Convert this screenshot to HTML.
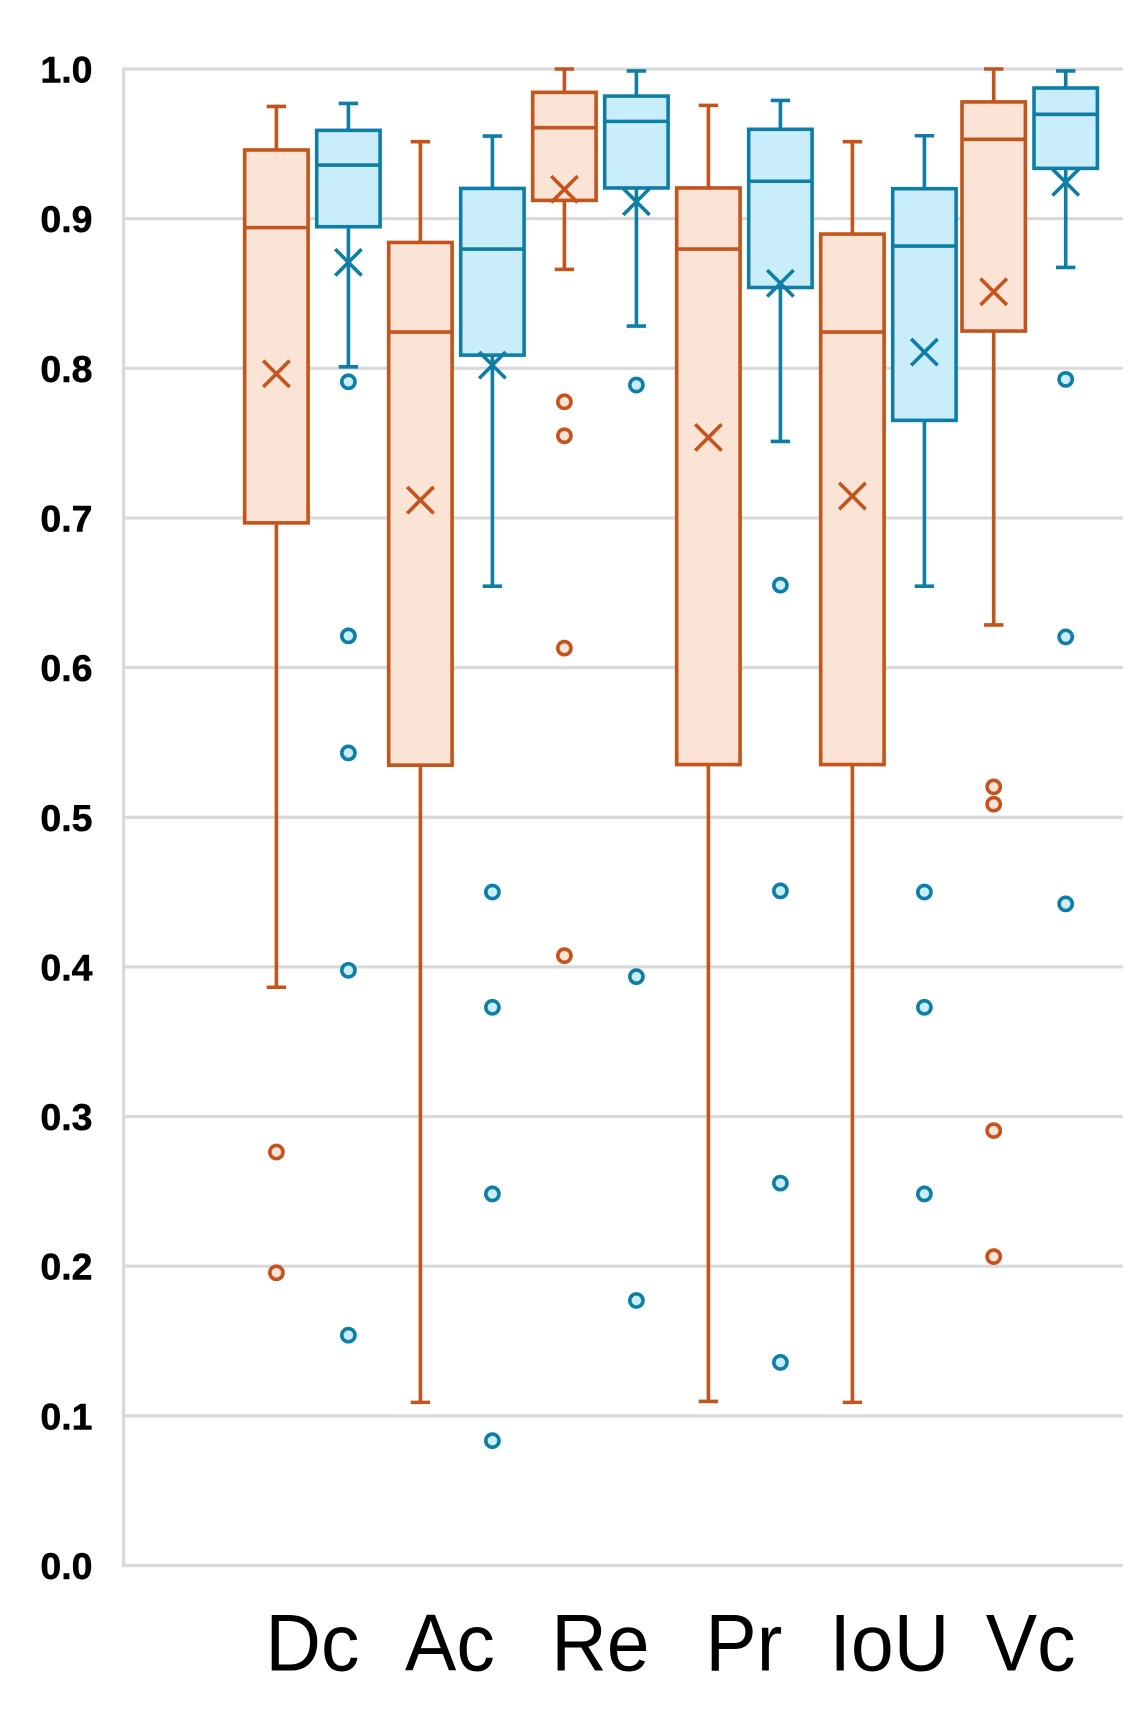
<!DOCTYPE html>
<html lang="en">
<head>
<meta charset="utf-8">
<title>Box plot of segmentation metrics</title>
<style>
  html, body { margin: 0; padding: 0; background: #fff; }
  #chart { display: block; width: 1142px; height: 1713px; }
  .y-tick { font: bold 37.5px "Liberation Sans", sans-serif; fill: #000; stroke: #000; stroke-width: 0.5; text-anchor: end; }
  .x-tick { font: 81px "Liberation Sans", sans-serif; fill: #000; text-anchor: middle; }
</style>
</head>
<body>
<svg id="chart" xmlns="http://www.w3.org/2000/svg" width="1142" height="1713" viewBox="0 0 1142 1713"></svg>
<script>
const categories = ['Dc', 'Ac', 'Re', 'Pr', 'IoU', 'Vc'];
const yTickValues = [0.0, 0.1, 0.2, 0.3, 0.4, 0.5, 0.6, 0.7, 0.8, 0.9, 1.0];

const orangeWhiskerHigh = [0.975, 0.9514, 1.0, 0.9757, 0.9514, 1.0];
const orangeQ3 = [0.9459, 0.8841, 0.9844, 0.9205, 0.8897, 0.978];
const orangeMedian = [0.894, 0.8242, 0.9608, 0.8797, 0.8242, 0.953];
const orangeQ1 = [0.6967, 0.5348, 0.9122, 0.5352, 0.5352, 0.8249];
const orangeWhiskerLow = [0.3864, 0.109, 0.8661, 0.1096, 0.109, 0.6285];
const orangeMean = [0.7963, 0.7119, 0.9196, 0.7538, 0.7146, 0.8511];
const orangeOutliers = [
  [0.2763, 0.1956],
  [],
  [0.7776, 0.7549, 0.613, 0.4075],
  [],
  [],
  [0.5203, 0.5087, 0.2906, 0.2064]
];

const blueWhiskerHigh = [0.977, 0.9552, 0.9987, 0.979, 0.9554, 0.9987];
const blueQ3 = [0.959, 0.9202, 0.9819, 0.9597, 0.92, 0.9873];
const blueMedian = [0.9358, 0.8797, 0.965, 0.925, 0.8817, 0.9697];
const blueQ1 = [0.8946, 0.8088, 0.9205, 0.854, 0.7652, 0.9336];
const blueWhiskerLow = [0.801, 0.6544, 0.8282, 0.7511, 0.6544, 0.8674];
const blueMean = [0.8708, 0.8021, 0.9113, 0.8568, 0.8108, 0.9243];
const blueOutliers = [
  [0.791, 0.6212, 0.543, 0.3977, 0.1539],
  [0.45, 0.373, 0.2483, 0.0834],
  [0.7888, 0.3935, 0.1771],
  [0.6551, 0.4508, 0.2555, 0.1357],
  [0.45, 0.373, 0.2483],
  [0.7926, 0.6205, 0.4421]
];

const NS = 'http://www.w3.org/2000/svg';
const svg = document.getElementById('chart');
const GRID = '#d9d9d9';
const ORANGE = { stroke: '#c4541b', fill: '#fbe3d6' };
const BLUE = { stroke: '#0f7ea6', fill: '#c9edfb' };

const plotLeft = 123.7, plotRight = 1123;
const yZero = 1565.5, yOne = 69;
const boxHalf = 31.7, capHalf = 9.7, crossHalf = 13.2, outlierR = 6.6, seriesGap = 72;
const labelNudge = [0, -6.5, 0, -0.5, 1, 1];
const labelStretch = 0.95;

function yScale(v) { return yZero + (yOne - yZero) * v; }
function xCategory(i) { return 276.4 + 144 * i - (i === 5 ? 2.7 : 0); }

function make(tag, attrs, parent) {
  const node = document.createElementNS(NS, tag);
  for (const k in attrs) node.setAttribute(k, attrs[k]);
  (parent || svg).appendChild(node);
  return node;
}

function drawAxes() {
  yTickValues.forEach(function (v) {
    const y = yScale(v);
    const grid = make('line', { x1: plotLeft - 1.5, x2: plotRight, y1: y, y2: y, stroke: GRID, 'stroke-width': 3.2 });
    
    
    const label = make('text', { x: 92.5, y: y + 13.5, class: 'y-tick' });
    label.textContent = v.toFixed(1);
    
    
  });
  const axis = make('line', { x1: plotLeft, x2: plotLeft, y1: yScale(1) - 1.5, y2: yScale(0) + 1.5, stroke: GRID, 'stroke-width': 3.2 });
  
  
  categories.forEach(function (c, i) {
    const lx = xCategory(i) + seriesGap / 2 + labelNudge[i];
    const label = make('text', { transform: 'translate(' + lx + ' 1670.7) scale(' + labelStretch + ' 1)', class: 'x-tick' });
    label.textContent = c;
    
    
  });
}

function drawBox(i, x, color, prefix, high, q3, med, q1, low, mean, outliers) {
  const group = make('g', { fill: 'none', stroke: color.stroke, 'stroke-width': 3.6 });
  
  

  const whiskerUp = make('path', { d: 'M' + (x - capHalf) + ' ' + yScale(high[i]) + 'H' + (x + capHalf) + 'M' + x + ' ' + yScale(high[i]) + 'V' + yScale(q3[i]) }, group);
  
  

  const whiskerDown = make('path', { d: 'M' + (x - capHalf) + ' ' + yScale(low[i]) + 'H' + (x + capHalf) + 'M' + x + ' ' + yScale(low[i]) + 'V' + yScale(q1[i]) }, group);
  
  

  const rect = make('rect', { x: x - boxHalf, y: yScale(q3[i]), width: boxHalf * 2, height: yScale(q1[i]) - yScale(q3[i]), fill: color.fill }, group);
  
  

  const medLine = make('line', { x1: x - boxHalf, x2: x + boxHalf, y1: yScale(med[i]), y2: yScale(med[i]) }, group);
  
  

  const ym = yScale(mean[i]);
  const cross = make('path', { d: 'M' + (x - crossHalf) + ' ' + (ym - crossHalf) + 'L' + (x + crossHalf) + ' ' + (ym + crossHalf) + 'M' + (x - crossHalf) + ' ' + (ym + crossHalf) + 'L' + (x + crossHalf) + ' ' + (ym - crossHalf) }, group);
  
  

  outliers[i].forEach(function (v) {
    const dot = make('circle', { cx: x, cy: yScale(v), r: outlierR, fill: color.fill }, group);
    
    
  });
}

drawAxes();
categories.forEach(function (c, i) {
  drawBox(i, xCategory(i), ORANGE, 'orange', orangeWhiskerHigh, orangeQ3, orangeMedian, orangeQ1, orangeWhiskerLow, orangeMean, orangeOutliers);
  drawBox(i, xCategory(i) + seriesGap, BLUE, 'blue', blueWhiskerHigh, blueQ3, blueMedian, blueQ1, blueWhiskerLow, blueMean, blueOutliers);
});
</script>
</body>
</html>
